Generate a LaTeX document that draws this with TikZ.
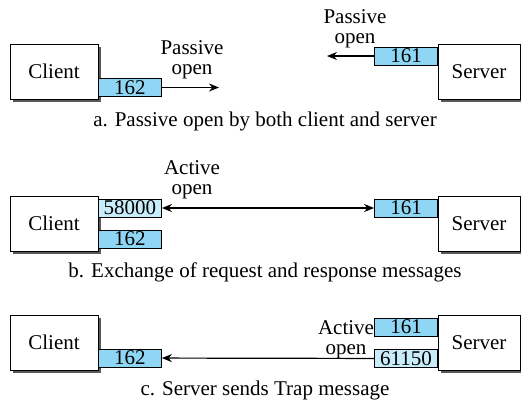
\documentclass[tikz,border=0pt]{standalone}
\usepackage{fontspec}
\setmainfont{Liberation Serif}
\usetikzlibrary{positioning,shadows,arrows.meta}
\definecolor{portblue}{RGB}{142,214,244}
\definecolor{portlight}{RGB}{200,236,250}
\tikzset{
    hostbox/.style={
        draw, line width=1pt, fill=white,
        minimum height=55pt, inner sep=0pt,
        drop shadow={shadow xshift=3pt, shadow yshift=-3pt, fill=black!65, opacity=1}
    },
    portbox/.style={
        draw, line width=0.9pt, fill=portblue,
        minimum width=63pt, minimum height=18pt, inner sep=0pt
    },
    tempport/.style={portbox, fill=portlight},
    msgarrow/.style={line width=1.2pt, -{Stealth[length=10pt,width=8pt]}},
    caption/.style={anchor=base},
    lbl/.style={align=center}
}

\begin{document}
\begin{tikzpicture}[x=1pt, y=-1pt, font=\fontsize{21}{20}\selectfont]
\useasboundingbox (0,0) rectangle (521,400);

% a. Passive open
\node[hostbox, minimum width=88pt] (clientA) at (54,71.5) {Client};
\node[hostbox, minimum width=82pt] (serverA) at (479,71.5) {Server};
\node[portbox, anchor=west] (cportA) at (98,87.5) {162};
\node[portbox, anchor=east] (sportA) at (438,56) {161};
\coordinate (cendA) at (219,87.5);
\coordinate (sendA) at (327,56);
\draw[msgarrow] (cportA) -- (cendA);
\draw[msgarrow] (sportA) -- (sendA);
\node[lbl] (cpassive) at (192,60) {Passive\\open};
\node[lbl] (spassive) at (355,29) {Passive\\open};
\node[caption] (capA) at (265,126) {a. Passive open by both client and server};

% b. Request and response
\node[hostbox, minimum width=88pt] (clientB) at (54,223.5) {Client};
\node[hostbox, minimum width=82pt] (serverB) at (479,223.5) {Server};
\node[tempport, anchor=west] (tportB) at (98,208) {58000};
\node[portbox, anchor=west] (cportB) at (98,239) {162};
\node[portbox, anchor=east] (sportB) at (438,208) {161};
\draw[msgarrow, {Stealth[length=10pt,width=8pt]}-{Stealth[length=10pt,width=8pt]}] (tportB) -- (sportB);
\node[lbl] (activeB) at (192,180) {Active\\open};
\node[caption] (capB) at (265,277) {b. Exchange of request and response messages};

% c. Trap message
\node[hostbox, minimum width=88pt] (clientC) at (54,342.5) {Client};
\node[hostbox, minimum width=82pt] (serverC) at (479,342.5) {Server};
\node[portbox, anchor=west] (cportC) at (98,358) {162};
\node[portbox, anchor=east] (sportC) at (438,327) {161};
\node[tempport, anchor=east] (tportC) at (438,358.5) {61150};
\draw[msgarrow] (tportC) -- (cportC);
\node[lbl] (activeC) at (346,340) {Active\\open};
\node[caption] (capC) at (265,395) {c. Server sends Trap message};
\end{tikzpicture}
\end{document}
